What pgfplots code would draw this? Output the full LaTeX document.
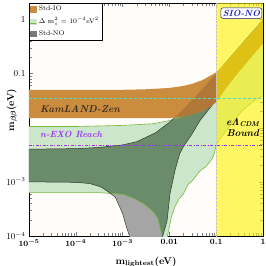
\documentclass[border=0pt]{standalone}
\usepackage{pgfplots}
\pgfplotsset{compat=1.18}
\definecolor{bgc}{RGB}{255,252,249}
\definecolor{iocol}{RGB}{204,140,62}
\definecolor{iodark}{RGB}{176,120,56}
\definecolor{lgreen}{RGB}{204,230,204}
\definecolor{gedge}{RGB}{120,185,60}
\definecolor{nogray}{RGB}{165,165,165}
\definecolor{nolegend}{RGB}{120,120,120}
\definecolor{dgreen}{RGB}{106,140,106}
\definecolor{noedge}{RGB}{45,65,45}
\definecolor{kzcyan}{RGB}{80,220,200}
\definecolor{nexo}{RGB}{155,50,240}
\definecolor{sioblue}{RGB}{30,30,200}
\definecolor{kztext}{RGB}{58,48,32}
\begin{document}
\begin{tikzpicture}
\useasboundingbox (-29bp,-30bp) rectangle (237bp,236bp);
\begin{axis}[
  at={(0,0)}, anchor=south west,
  scale only axis, width=234bp, height=233bp,
  xmode=log, ymode=log,
  xmin=1e-5, xmax=1, ymin=1e-4, ymax=2,
  axis background/.style={fill=bgc},
  xtick={1e-5,1e-4,1e-3,1e-2,1e-1,1},
  xticklabels={$10^{-5}$,$10^{-4}$,$10^{-3}$,$0.01$,$0.1$,$1$},
  ytick={1e-4,1e-3,1e-2,1e-1,1},
  yticklabels={$10^{-4}$,$10^{-3}$,{},$0.1$,$1$},
  x tick label style={font=\fontsize{8.5}{10}\selectfont\boldmath},
  y tick label style={font=\fontsize{9}{10}\selectfont},
  xlabel={m\textsubscript{lightest}(eV)},
  xlabel style={font=\fontsize{10}{12}\selectfont\bfseries, at={(axis description cs:0.5,-0.112)}, anchor=center},
  ylabel={m$_{\beta\beta}$(eV)},
  ylabel style={font=\fontsize{10}{12}\selectfont\bfseries\boldmath, at={(axis description cs:-0.073,0.54)}, anchor=center},
  legend style={at={(0,1)}, anchor=north west, draw=black, line width=0.4pt, fill=white,
    font=\fontsize{6.8}{7.5}\selectfont, inner sep=1pt, row sep=1.2pt},
  legend cell align=left,
]
% ---------- sterile band (Delta m_s^2 = 1e-4)
\addplot[fill=lgreen, draw=none, forget plot] coordinates {
(1e-5,0.0105)(1e-4,0.0105)(1e-3,0.011)(4.5e-3,0.0118)(0.01,0.0135)(0.02,0.0162)(0.03,0.0178)(0.05,0.0205)(0.07,0.024)(0.1,0.031)(0.2,0.072)(0.5,0.185)(1,0.38)
(1,0.039)(0.6,0.03)(0.35,0.02)(0.2,0.011)(0.12,0.0062)(0.1,0.0048)(0.09,0.0032)(0.08,0.0026)(0.06,0.0019)(0.045,0.0016)(0.031,0.00105)(0.025,0.0009)(0.02,0.0006)(0.016,0.00048)(0.013,0.00034)(0.011,0.00022)(0.0091,0.0001)(0.0089,0.00005)(0.0070,0.00005)(0.0069,0.0001)(0.0065,0.00013)(0.0057,0.00021)(0.0045,0.00028)(0.003,0.00038)(0.0017,0.0005)(0.001,0.00059)(3.3e-4,0.00063)(1e-5,0.00063)} -- cycle;
% ---------- Std-NO band
\addplot[fill=nogray, draw=none, forget plot] coordinates {
(1e-5,0.004)(1e-4,0.0041)(3e-4,0.0043)(1e-3,0.0048)(2e-3,0.0055)(5e-3,0.008)(0.01,0.0125)(0.02,0.022)(0.05,0.051)(0.1,0.1)(0.3,0.3)(1,0.98)
(1,0.37)(0.3,0.11)(0.1,0.032)(0.07,0.022)(0.045,0.0135)(0.03,0.0075)(0.02,0.0045)(0.0166,0.0033)(0.0131,0.0016)(0.0103,0.0006)(0.0089,0.00019)(0.0072,0.0001)(0.0071,0.00003)(0.0015,0.00003)(0.0014,0.0001)(0.0012,0.00015)(0.001,0.00026)(7e-4,0.00052)(5e-4,0.00065)(3.5e-4,0.0008)(2e-4,0.00093)(1e-4,0.00098)(1e-5,0.001)} -- cycle;
% ---------- overlap NO & sterile
\addplot[fill=dgreen, draw=none, forget plot] coordinates {
(1e-5,0.004)(1e-4,0.0041)(3e-4,0.0043)(1e-3,0.0048)(2e-3,0.0055)(5e-3,0.008)(0.01,0.0125)(0.0115,0.014)(0.02,0.0162)(0.03,0.0178)(0.05,0.0205)(0.07,0.024)(0.09,0.0285)
(0.07,0.022)(0.045,0.0135)(0.03,0.0075)(0.02,0.0045)(0.0166,0.0033)(0.0131,0.0016)(0.0103,0.0006)(0.0089,0.00019)(0.0072,0.0001)(0.0071,0.00003)(0.0070,0.00003)(0.0069,0.0001)(0.0065,0.00013)(0.0057,0.00021)(0.0045,0.00028)(0.003,0.00038)(0.0017,0.0005)(0.001,0.00059)(5.4e-4,0.00062)(3.5e-4,0.0008)(2e-4,0.00093)(1e-4,0.00098)(1e-5,0.001)} -- cycle;
% ---------- edges of sterile band
\addplot[gedge, line width=0.6pt, forget plot] coordinates {
(1e-5,0.0105)(1e-4,0.0105)(1e-3,0.011)(4.5e-3,0.0118)(0.01,0.0135)(0.02,0.0162)(0.03,0.0178)(0.05,0.0205)(0.07,0.024)(0.1,0.031)(0.2,0.072)(0.5,0.185)(1,0.38)};
\addplot[gedge, line width=0.6pt, forget plot] coordinates {
(1e-5,0.00063)(3.3e-4,0.00063)(0.001,0.00059)(0.0017,0.0005)(0.003,0.00038)(0.0045,0.00028)(0.0057,0.00021)(0.0065,0.00013)(0.0069,0.0001)(0.0070,0.00005)};
\addplot[gedge, line width=0.6pt, forget plot] coordinates {
(0.0089,0.00005)(0.0091,0.0001)(0.011,0.00022)(0.013,0.00034)(0.016,0.00048)(0.02,0.0006)(0.025,0.0009)(0.031,0.00105)(0.045,0.0016)(0.06,0.0019)(0.08,0.0026)(0.09,0.0032)(0.1,0.0048)(0.12,0.0062)(0.2,0.011)(0.35,0.02)(0.6,0.03)(1,0.039)};
% ---------- edges of NO band
\addplot[noedge, line width=0.5pt, forget plot] coordinates {
(1e-5,0.004)(1e-4,0.0041)(3e-4,0.0043)(1e-3,0.0048)(2e-3,0.0055)(5e-3,0.008)(0.01,0.0125)(0.02,0.022)(0.05,0.051)(0.1,0.1)(0.3,0.3)(1,0.98)};
\addplot[noedge, line width=0.5pt, forget plot] coordinates {
(1e-5,0.001)(1e-4,0.00098)(2e-4,0.00093)(3.5e-4,0.0008)(5e-4,0.00065)(7e-4,0.00052)(0.001,0.00026)(0.0012,0.00015)(0.0014,0.0001)(0.0015,0.00003)};
\addplot[noedge, line width=0.5pt, forget plot] coordinates {
(0.0071,0.00003)(0.0072,0.0001)(0.0089,0.00019)(0.0103,0.0006)(0.0131,0.0016)(0.0166,0.0033)(0.02,0.0045)(0.03,0.0075)(0.045,0.0135)(0.07,0.022)(0.1,0.032)(0.3,0.11)(1,0.37)};
% ---------- Std-IO band
\addplot[fill=iocol, draw=none, forget plot] coordinates {
(1e-5,0.05)(1e-3,0.05)(3e-3,0.051)(0.01,0.054)(0.02,0.059)(0.03,0.064)(0.05,0.075)(0.07,0.088)(0.1,0.105)(0.2,0.19)(0.5,0.47)(1,0.95)
(1,0.37)(0.5,0.18)(0.2,0.07)(0.1,0.03)(0.07,0.0235)(0.05,0.02)(0.03,0.0175)(0.02,0.016)(0.01,0.015)(1e-5,0.015)} -- cycle;
% ---------- overlap IO & NO
\addplot[fill=iodark, draw=none, forget plot] coordinates {
(0.0129,0.01535)(0.02,0.022)(0.05,0.051)(0.1,0.1)(0.15,0.148)(0.2,0.19)(0.5,0.47)(1,0.95)
(1,0.37)(0.5,0.18)(0.2,0.07)(0.1,0.03)(0.07,0.0235)(0.05,0.02)(0.03,0.0175)(0.02,0.016)} -- cycle;
% ---------- eLambdaCDM bound region
\addplot[fill=yellow, fill opacity=0.6, draw=none, forget plot] coordinates {
(0.1,1e-4)(1,1e-4)(1,2)(0.1,2)} -- cycle;
\addplot[densely dotted, color=gray!45, line width=0.4pt, forget plot] coordinates {(0.1,1e-4)(0.1,2)};
% ---------- experimental lines
\addplot[kzcyan, dash pattern=on 3pt off 2pt, line width=0.6pt, forget plot] coordinates {(1e-5,0.0345)(1,0.0345)};
\addplot[nexo, dash pattern=on 3pt off 1.5pt on 1pt off 1.5pt, line width=0.8pt, forget plot] coordinates {(1e-5,0.0047)(1,0.0047)};
% ---------- texts
\node[anchor=west, text=kztext, font=\fontsize{10}{12}\selectfont\bfseries\itshape] at (axis cs:1.45e-5,0.0222) {KamLAND-Zen};
\node[anchor=west, text=nexo, font=\fontsize{9}{11}\selectfont\bfseries\itshape] at (axis cs:1.45e-5,0.0076) {n-EXO Reach};
\node[align=center, font=\fontsize{10}{11}\selectfont\bfseries\itshape, inner sep=0pt] at (axis cs:0.37,0.0102) {e{\boldmath$\mathit{\Lambda}$}\textsubscript{CDM}\\Bound};
\node[draw=sioblue!70!black, fill=white, rounded corners=2pt, text=sioblue, font=\fontsize{9}{10}\selectfont\bfseries\itshape, inner sep=2pt, line width=0.5pt] at (axis cs:0.345,1.3) {SIO-NO};
% ---------- legend
\addlegendimage{legend image code/.code={\fill[iocol] (0bp,-2.8bp) rectangle (6bp,2.8bp);}}
\addlegendentry{Std-IO}
\addlegendimage{legend image code/.code={\fill[lgreen] (0bp,-2.8bp) rectangle (6bp,2.8bp); \draw[gedge, line width=0.6pt] (0bp,-2bp) -- (6bp,-2bp);}}
\addlegendentry{$\Delta$ m$^2_s$ = 10$^{-4}$eV$^2$}
\addlegendimage{legend image code/.code={\fill[nolegend] (0bp,-2.8bp) rectangle (6bp,2.8bp);}}
\addlegendentry{Std-NO}
\end{axis}
\end{tikzpicture}
\end{document}
